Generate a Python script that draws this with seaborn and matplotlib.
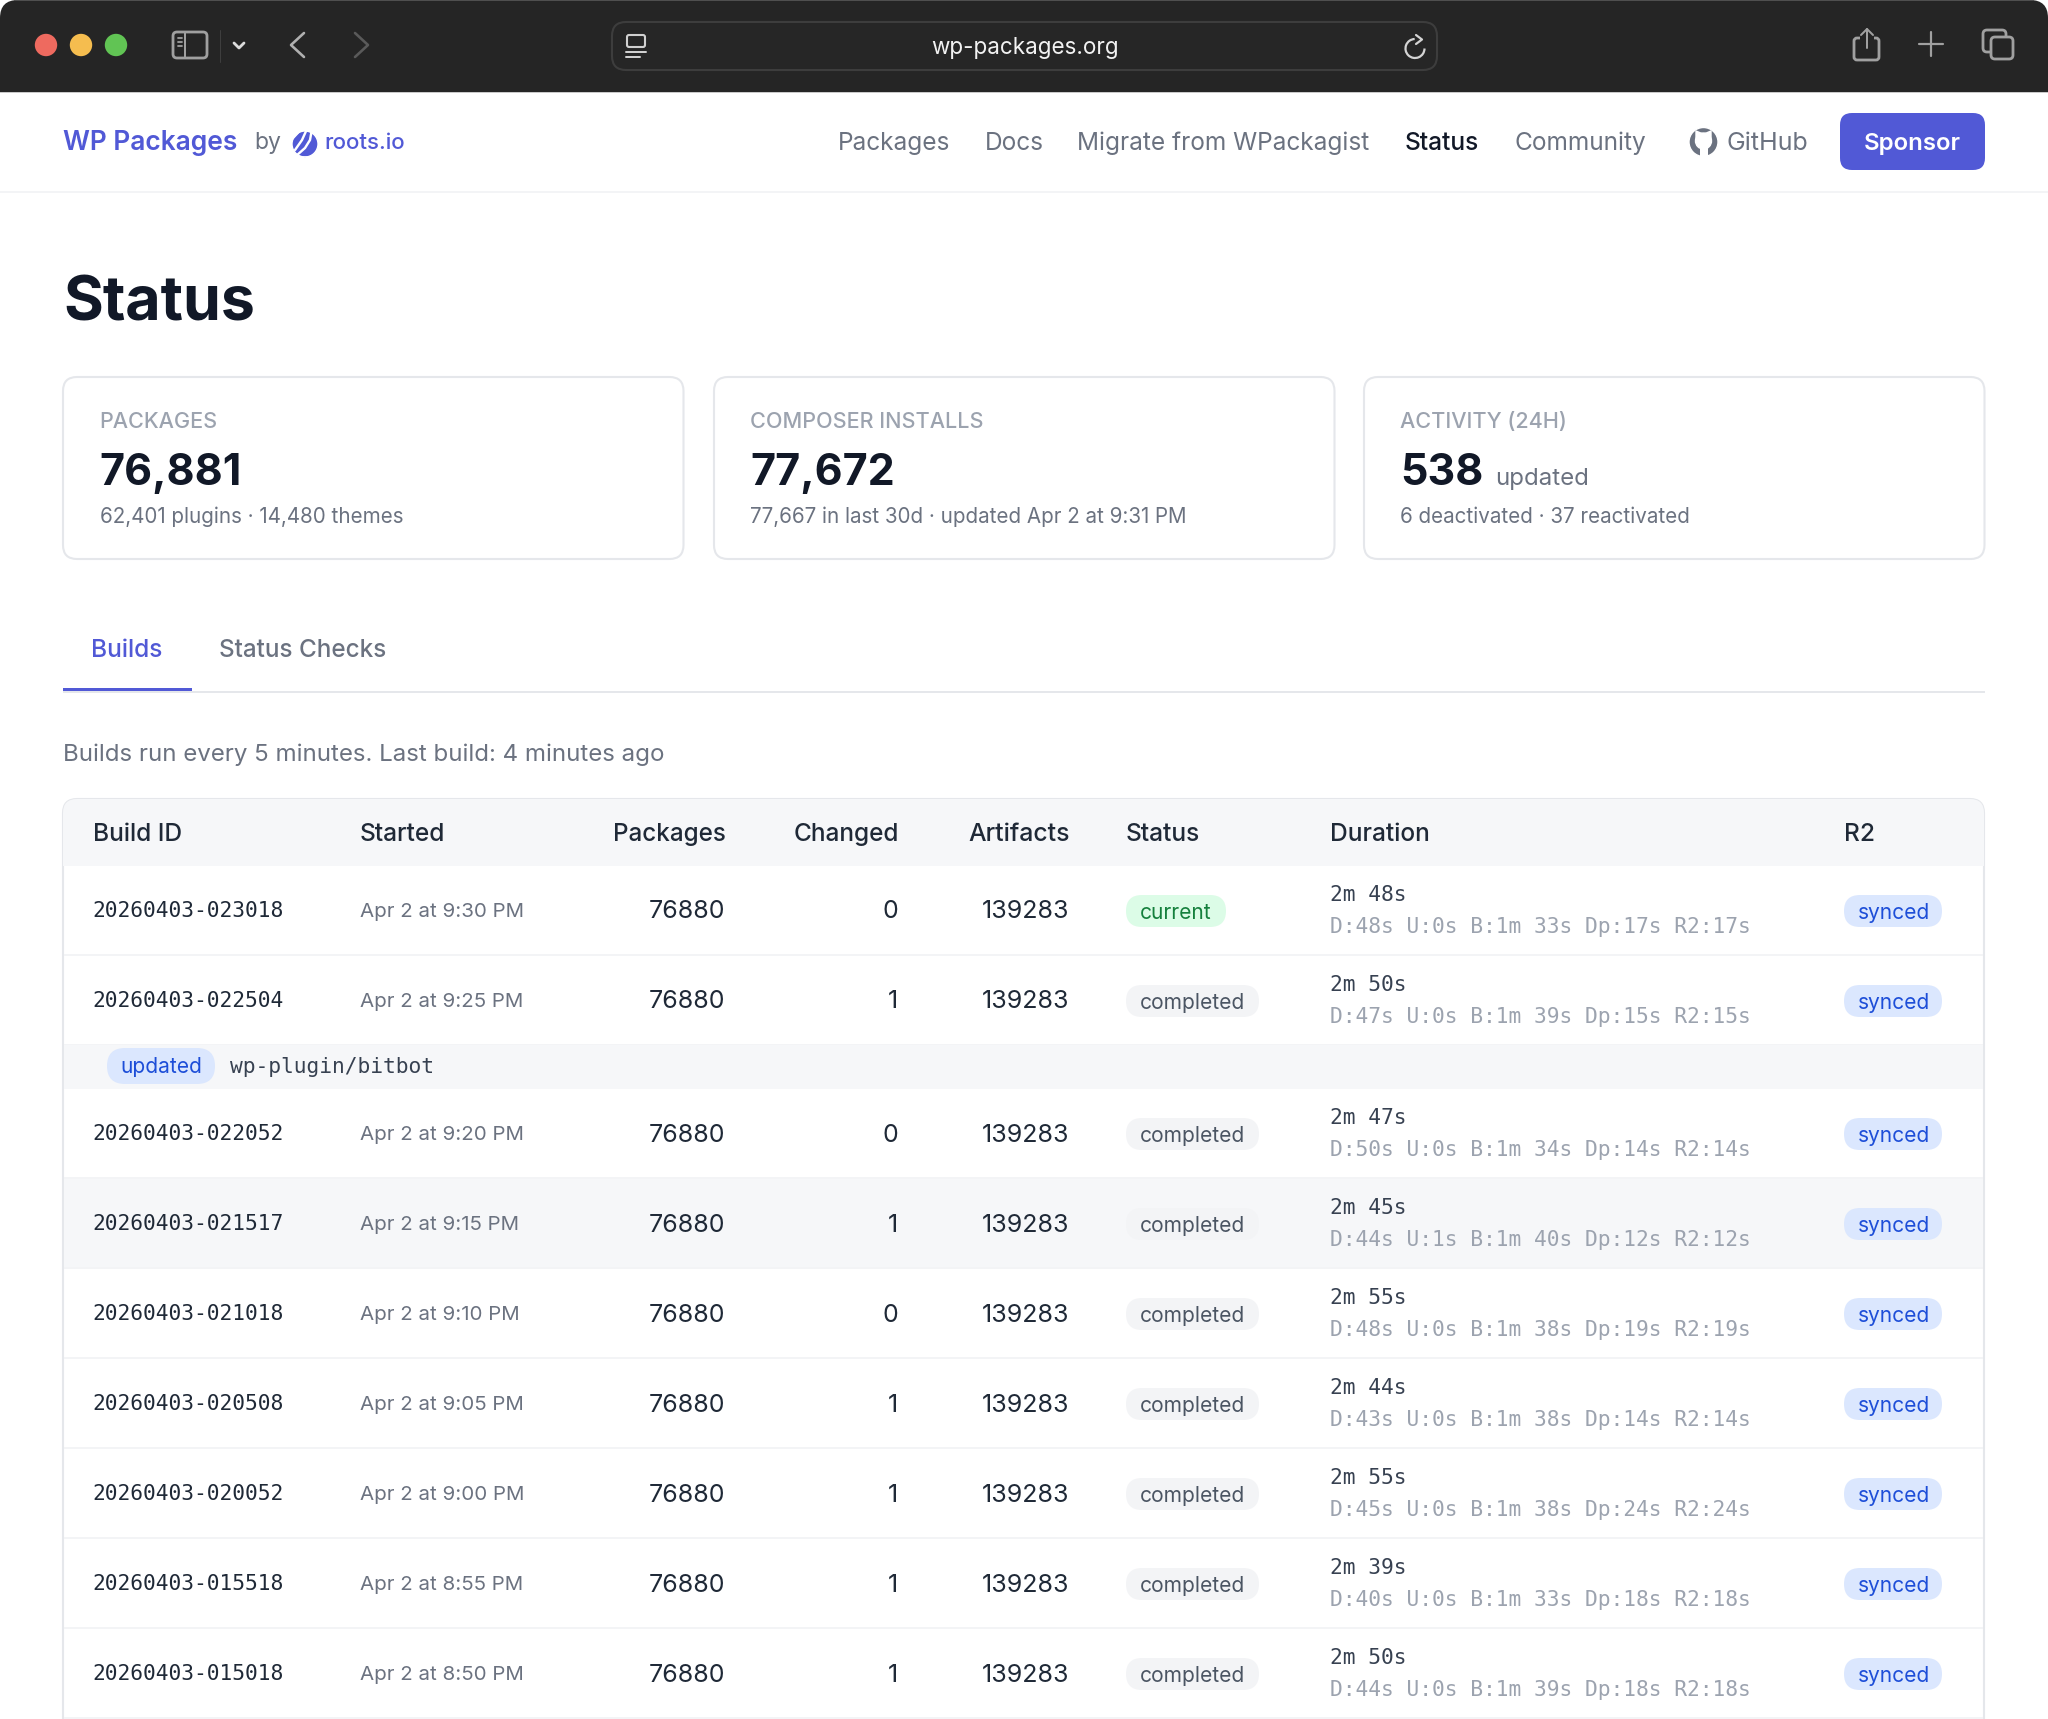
import matplotlib
matplotlib.use('Agg')
import matplotlib.pyplot as plt
import seaborn as sns
from matplotlib.patches import Arc, FancyBboxPatch, Rectangle, Circle, Polygon

W, H = 2048, 1719

# table data
build_ids = ['20260403-023018', '20260403-022504', '20260403-022052', '20260403-021517', '20260403-021018',
             '20260403-020508', '20260403-020052', '20260403-015518', '20260403-015018']
started = ['Apr 2 at 9:30 PM', 'Apr 2 at 9:25 PM', 'Apr 2 at 9:20 PM', 'Apr 2 at 9:15 PM', 'Apr 2 at 9:10 PM',
           'Apr 2 at 9:05 PM', 'Apr 2 at 9:00 PM', 'Apr 2 at 8:55 PM', 'Apr 2 at 8:50 PM']
packages = [76880] * 9
changed = [0, 1, 0, 1, 0, 1, 1, 1, 1]
artifacts = [139283] * 9
statuses = ['current'] + ['completed'] * 8
durations = ['2m 48s', '2m 50s', '2m 47s', '2m 45s', '2m 55s', '2m 44s', '2m 55s', '2m 39s', '2m 50s']
breakdowns = ['D:48s U:0s B:1m 33s Dp:17s R2:17s', 'D:47s U:0s B:1m 39s Dp:15s R2:15s',
              'D:50s U:0s B:1m 34s Dp:14s R2:14s', 'D:44s U:1s B:1m 40s Dp:12s R2:12s',
              'D:48s U:0s B:1m 38s Dp:19s R2:19s', 'D:43s U:0s B:1m 38s Dp:14s R2:14s',
              'D:45s U:0s B:1m 38s Dp:24s R2:24s', 'D:40s U:0s B:1m 33s Dp:18s R2:18s',
              'D:44s U:0s B:1m 39s Dp:18s R2:18s']
headers = ['Build ID', 'Started', 'Packages', 'Changed', 'Artifacts', 'Status', 'Duration', 'R2']
nav_items = ['Packages', 'Docs', 'Migrate from WPackagist', 'Status', 'Community', 'GitHub']
card_labels = ['PACKAGES', 'COMPOSER INSTALLS', 'ACTIVITY (24H)']
card_values = ['76,881', '77,672', '538']
card_notes = ['62,401 plugins · 14,480 themes', '77,667 in last 30d · updated Apr 2 at 9:31 PM',
              '6 deactivated · 37 reactivated']

BLUE = '#5159d6'
DARK = '#111827'
GRAY = '#6b7280'
LIGHT = '#9ca3af'
PALE = '#f6f7f9'
LINE = '#e5e7eb'
BAR = '#252525'
SANS = ['Inter', 'DejaVu Sans']
MONO = ['DejaVu Sans Mono']

sns.set_theme(style='white')
plt.rcParams['font.family'] = SANS

fig = plt.figure(figsize=(W / 100, H / 100), dpi=100)
ax = fig.add_axes([0, 0, 1, 1])
ax.set_xlim(0, W)
ax.set_ylim(H, 0)
ax.axis('off')


def txt(x, y, s, px, color=DARK, weight='normal', ha='left', family=None, zorder=5):
    # y is the optical middle of the text, px the font size in image pixels
    return ax.text(x, y + 0.36 * px, s, fontsize=px * 0.72, color=color, fontweight=weight, ha=ha,
                   va='baseline', family=family or SANS, zorder=zorder)


def box(x0, y0, x1, y1, r, fc, ec='none', lw=0, zorder=1):
    p = FancyBboxPatch((x0, y0), x1 - x0, y1 - y0, boxstyle=f'round,pad=0,rounding_size={r}',
                       fc=fc, ec=ec, lw=lw, zorder=zorder)
    ax.add_patch(p)
    return p


def rect(x0, y0, x1, y1, fc, zorder=1):
    p = Rectangle((x0, y0), x1 - x0, y1 - y0, fc=fc, ec='none', lw=0, zorder=zorder)
    ax.add_patch(p)
    return p


def stroke(xs, ys, color, lw=2.0, zorder=6):
    ax.plot(xs, ys, color=color, lw=lw * 0.72, solid_capstyle='round', solid_joinstyle='round', zorder=zorder)


# browser chrome
box(0, 0, W, 140, 18, BAR, zorder=1)
rect(0, 92, W, 93, '#c9c9c9', zorder=2)
rect(0, 93, W, H, 'white', zorder=2)
rect(14, 0, W - 14, 1.5, '#4f4f4f', zorder=3)

light_x = [46, 81, 116]
light_y = [45, 45, 45]
light_name = ['close', 'min', 'max']
sns.scatterplot(x=light_x, y=light_y, hue=light_name, ax=ax, s=260, legend=False, linewidth=0, zorder=5,
                palette={'close': '#ee6a5f', 'min': '#f5bd4f', 'max': '#61c454'})
ax.set_xlim(0, W)
ax.set_ylim(H, 0)

# sidebar icon and nav arrows
box(173, 32, 207, 58, 4, 'none', '#a0a0a0', 2, zorder=5)
stroke([185, 185], [32, 58], '#a0a0a0', 2)
for yy in [38, 42, 46]:
    stroke([178, 182], [yy, yy], '#a0a0a0', 1.8)
stroke([220, 220], [30, 62], '#3e3e3e', 1)
stroke([234, 239, 244], [43, 48, 43], '#dcdcdc', 2.8)
stroke([304, 291, 304], [33, 45, 57], '#b0b0b0', 2.6)
stroke([355, 368, 355], [33, 45, 57], '#5a5a5a', 2.6)

# address bar
box(612, 22, 1437, 70, 14, '#262626', '#3d3d3d', 1.5, zorder=3)
box(627, 35, 645, 47, 2, 'none', '#d0d0d0', 1.5, zorder=5)
stroke([626, 646], [52, 52], '#d0d0d0', 2)
stroke([626, 640], [57, 57], '#d0d0d0', 2)
txt(1025, 46, 'wp-packages.org', 22.5, '#f2f2f2', ha='center')
ax.add_patch(Arc((1415, 48.5), 19, 19, theta1=0, theta2=268, ec='#d4d4d4', lw=1.6, zorder=6))
stroke([1416, 1422, 1416], [35, 39.5, 44], '#d4d4d4', 2.2)

# share, new tab and tabs icons
box(1854, 38, 1879, 60, 3, 'none', '#a0a0a0', 2, zorder=5)
rect(1860, 35, 1874, 41, BAR, zorder=5.5)
stroke([1867, 1867], [29, 48], '#a0a0a0', 2)
stroke([1861, 1867, 1873], [35, 29, 35], '#a0a0a0', 2)
stroke([1919, 1943], [44.5, 44.5], '#a0a0a0', 2.2)
stroke([1931, 1931], [32, 56], '#a0a0a0', 2.2)
box(1983, 30, 2006, 52, 4, 'none', '#a0a0a0', 2, zorder=5)
box(1991, 37, 2013, 59, 4, BAR, '#a0a0a0', 2, zorder=6)

# site nav
rect(0, 191, W, 193, '#f3f4f6', zorder=3)
txt(63, 140, 'WP Packages', 26.4, BLUE, 'semibold')
txt(254, 141, 'by', 23, GRAY)
ax.add_patch(Circle((305, 144), 13, fc=BLUE, zorder=5))
ax.add_patch(Polygon([(303, 157), (307, 157), (305, 159)], fc=BLUE, zorder=5))
ax.add_patch(Polygon([(290, 128), (303, 128), (290, 142)], fc='white', zorder=6))
stroke([307, 302, 295], [129, 140, 150], 'white', 2.4, zorder=6)
stroke([312, 310, 305, 296], [129, 140, 148, 156], 'white', 2.4, zorder=6)
txt(324, 141, 'roots.io', 22.3, BLUE, 'medium')

nav_x = [838, 985, 1077, 1405, 1515, 1727]
nav_size = [24.4, 24.4, 24.4, 24.5, 24.4, 25]
for name, x, size in zip(nav_items, nav_x, nav_size):
    if name == 'Status':
        txt(x, 141, name, size, DARK, 'medium')
    else:
        txt(x, 141, name, size, GRAY)
ax.add_patch(Circle((1703.5, 142), 14.5, fc=GRAY, zorder=5))
ax.add_patch(Circle((1703.5, 141), 8, fc='white', zorder=6))
ax.add_patch(Polygon([(1696, 131), (1696, 140), (1703, 134)], fc='white', zorder=6))
ax.add_patch(Polygon([(1711, 131), (1711, 140), (1704, 134)], fc='white', zorder=6))
rect(1700, 146, 1708, 157, 'white', zorder=6)

box(1840, 113, 1985, 170, 12, BLUE, zorder=4)
txt(1912.5, 141, 'Sponsor', 24, 'white', 'semibold', ha='center')

# heading
txt(63, 299, 'Status', 61, DARK, 'bold')

# summary cards
card_x = [63, 714, 1364]
for i in range(3):
    x = card_x[i]
    box(x, 377, x + 620.5, 559, 14, 'white', LINE, 1.5, zorder=3)
    txt(x + 36, 420, card_labels[i], 21.6, LIGHT, 'medium')
    txt(x + 36, 470, card_values[i], 43, DARK, 'bold')
    txt(x + 36.5, 515.5, card_notes[i], 20.6, GRAY)
txt(1495, 476, 'updated', 24, GRAY)

# tabs
txt(91, 648, 'Builds', 24.5, BLUE, 'medium')
txt(219, 648, 'Status Checks', 24.3, GRAY, 'medium')
rect(63, 691, 1985, 693, LINE, zorder=3)
rect(63, 688, 192, 691, BLUE, zorder=4)
txt(63, 752, 'Builds run every 5 minutes. Last build: 4 minutes ago', 24.1, GRAY)

# table
shell = box(63, 799, 1984, 1800, 14, 'white', LINE, 1.5, zorder=3)
head = rect(63, 799, 1984, 866, PALE, zorder=3.1)
head.set_clip_path(shell)
head_pos = [(93, 'left'), (360, 'left'), (726, 'right'), (899, 'right'), (1070, 'right'),
            (1126, 'left'), (1330, 'left'), (1844, 'left')]
head_size = [24.5, 24.5, 24.2, 24.4, 24.8, 24.5, 24.5, 24.5]
for h, (x, ha), size in zip(headers, head_pos, head_size):
    txt(x, 832, h, size, '#1f2937', 'medium', ha=ha)

row_y = [910, 1000, 1133, 1223, 1313, 1403, 1493, 1583, 1673]
for i, y in enumerate(row_y):
    if i == 3:
        rect(64, y - 45, 1983, y + 44, PALE, zorder=3.1)
    rect(64, y + 44, 1983, y + 46, '#f3f4f6', zorder=3.2)
    txt(92.5, y - 0.5, build_ids[i], 21.3, '#1f2937', family=MONO)
    txt(360, y - 0.5, started[i], 20.5, GRAY)
    txt(725.5, y - 0.5, str(packages[i]), 25, '#1f2937', ha='right')
    txt(898, y - 0.5, str(changed[i]), 25, '#1f2937', ha='right')
    txt(1069.5, y - 0.5, str(artifacts[i]), 25, '#1f2937', ha='right')
    if statuses[i] == 'current':
        box(1126, y - 15, 1226, y + 17, 16, '#dcfce7', zorder=4)
        txt(1140, y + 1, 'current', 21, '#15803d')
    else:
        box(1126, y - 15, 1259, y + 17, 16, '#f3f4f6', zorder=4)
        txt(1140, y + 1, 'completed', 21, '#4b5563')
    txt(1330, y - 16.5, durations[i], 21.3, '#374151', family=MONO)
    txt(1330, y + 15.5, breakdowns[i], 21.3, LIGHT, family=MONO)
    box(1844, y - 15, 1942, y + 17, 16, '#dbe7fe', zorder=4)
    txt(1858, y + 1, 'synced', 21, '#1d4ed8')

# expanded change row under the second build
rect(64, 1045, 1983, 1089, PALE, zorder=3.3)
box(107, 1048, 215, 1084, 18, '#dbe7fe', zorder=4)
txt(120, 1065, 'updated', 21, '#1d4ed8')
txt(230.5, 1065, 'wp-plugin/bitbot', 21.3, '#374151', family=MONO)

fig.savefig('out.png', dpi=100, facecolor='white')
